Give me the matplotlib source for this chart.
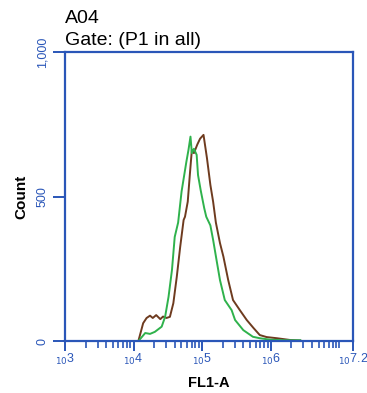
import numpy as np
import matplotlib
matplotlib.use("Agg")
import matplotlib.pyplot as plt
from matplotlib.ticker import FixedLocator, NullFormatter

plt.rcParams['font.family'] = ['Liberation Sans', 'DejaVu Sans']

# histogram traces (x as log10 of FL1-A, y = count)
brown_log = [4.07, 4.14, 4.19, 4.24, 4.28, 4.33, 4.39, 4.43, 4.48, 4.53, 4.58, 4.63, 4.68,
             4.73, 4.75, 4.79, 4.82, 4.85, 4.88, 4.93, 4.97, 5.02, 5.07, 5.12, 5.16, 5.20,
             5.26, 5.31, 5.38, 5.45, 5.55, 5.65, 5.75, 5.84, 5.94, 6.09, 6.28, 6.43]
brown_cnt = [0, 62, 80, 88, 80, 90, 76, 85, 80, 84, 131, 222, 326,
             419, 430, 482, 574, 661, 650, 680, 700, 713, 633, 540, 482, 410,
             339, 292, 211, 142, 107, 73, 45, 21, 14, 10, 4, 2]
green_log = [4.07, 4.17, 4.24, 4.31, 4.41, 4.46, 4.51, 4.56, 4.60, 4.65, 4.70, 4.77, 4.80,
             4.83, 4.85, 4.88, 4.92, 4.94, 4.98, 5.03, 5.06, 5.12, 5.16, 5.21, 5.26, 5.33,
             5.43, 5.48, 5.60, 5.74, 5.84, 5.99, 6.21, 6.43]
green_cnt = [0, 28, 25, 32, 50, 84, 153, 246, 360, 410, 517, 620, 660,
             707, 650, 665, 644, 574, 520, 460, 430, 400, 350, 280, 211, 142,
             107, 73, 38, 15, 10, 5, 3, 3]

x_major_exp = [3, 4, 5, 6, 7.2]
x_major_lbl = ['3', '4', '5', '6', '7.2']
y_ticks = [0, 500, 1000]
y_lbl = ['0', '500', '1,000']

blue = '#2a56b8'

fig = plt.figure(figsize=(3.67, 3.93), dpi=100)
ax = fig.add_axes([0.177, 0.132, 0.785, 0.736])

ax.plot(np.power(10.0, brown_log), brown_cnt, color='#6e3b1f', lw=1.4)
ax.plot(np.power(10.0, green_log), green_cnt, color='#2fb24c', lw=1.4)

ax.set_xscale('log')
ax.set_xlim(1e3, 10 ** 7.2)
ax.set_ylim(0, 1000)

ax.xaxis.set_major_locator(FixedLocator([10 ** e for e in x_major_exp]))
ax.set_xticklabels([r'$_{10}$' + s for s in x_major_lbl])
minors = [m * 10 ** d for d in range(3, 8) for m in range(2, 10) if m * 10 ** d < 10 ** 7.2]
minors.append(1e7)
ax.xaxis.set_minor_locator(FixedLocator(minors))
ax.xaxis.set_minor_formatter(NullFormatter())

ax.set_yticks(y_ticks)
ax.set_yticklabels(y_lbl, rotation=90, va='center')

for s in ax.spines.values():
    s.set_color(blue)
    s.set_linewidth(1.6)
ax.tick_params(axis='x', which='major', direction='out', length=7, width=1.4, color=blue,
               labelcolor=blue, labelsize=9, pad=1)
ax.tick_params(axis='x', which='minor', direction='out', length=5, width=1.2, color=blue)
ax.tick_params(axis='y', direction='out', length=9, width=1.4, color=blue,
               labelcolor=blue, labelsize=9, pad=3)

ax.set_xlabel('FL1-A', fontsize=10.5, fontweight='bold', labelpad=6)
ax.set_ylabel('Count', fontsize=11, fontweight='bold', labelpad=6)

fig.text(0.177, 0.953, 'A04', fontsize=14, va='center', ha='left')
fig.text(0.177, 0.897, 'Gate: (P1 in all)', fontsize=14, va='center', ha='left')

fig.savefig('out.png', dpi=100)
